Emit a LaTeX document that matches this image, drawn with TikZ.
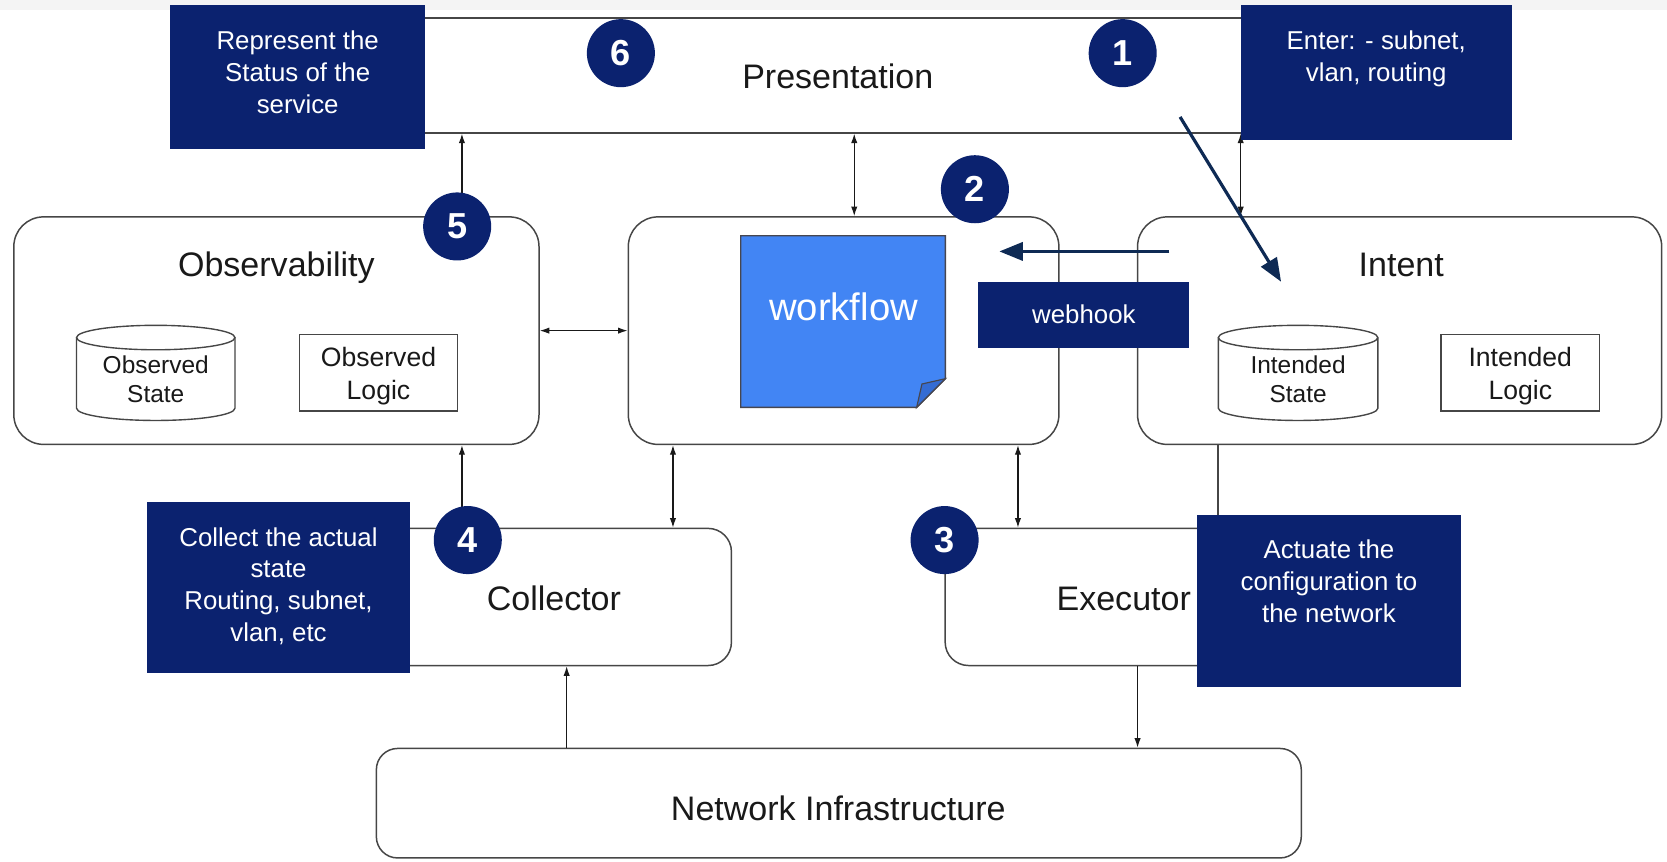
\documentclass[tikz,border=0pt]{standalone}
\usepackage{fontspec}
\setmainfont{Liberation Sans}
\usetikzlibrary{arrows.meta,calc}
\definecolor{navy}{RGB}{11,34,111}
\definecolor{arrownavy}{RGB}{14,42,84}
\definecolor{edge}{RGB}{70,70,70}
\definecolor{ink}{RGB}{25,25,25}
\definecolor{band}{RGB}{244,244,244}
\definecolor{noteblue}{RGB}{66,133,244}
\definecolor{notefold}{RGB}{52,108,212}
\definecolor{noteedge}{RGB}{70,70,80}
\tikzset{
  box/.style={draw=edge, line width=1.4pt, fill=white, inner sep=0pt, rounded corners=#1},
  box/.default=28pt,
  inner/.style={draw=edge, line width=1.3pt, fill=white},
  title/.style={inner sep=0pt, text=ink, anchor=base, font=\fontsize{32}{38}\selectfont},
  small/.style={inner sep=0pt, text=ink, anchor=north, align=center, font=\fontsize{23}{28}\selectfont},
  logic/.style={inner sep=0pt, text=ink, anchor=north, align=center, font=\fontsize{25}{31}\selectfont},
  conn/.style={draw=ink, line width=1.1pt, -{Latex[length=9pt,width=6pt]}},
  conn2/.style={draw=ink, line width=1.1pt, {Latex[length=9pt,width=6pt]}-{Latex[length=9pt,width=6pt]}},
  plain/.style={draw=edge, line width=1.3pt},
  flow/.style={draw=arrownavy, line width=3pt, -{Triangle[length=22pt,width=17pt]}},
  callout/.style={fill=navy, inner sep=0pt},
  calltext/.style={inner sep=0pt, text=white, anchor=north, align=center, font=\fontsize{24.3}{30}\selectfont},
  badge/.style={circle, fill=navy, minimum size=64pt, inner sep=0pt, text=white, font=\fontsize{34}{34}\selectfont\bfseries},
}
\begin{document}
\begin{tikzpicture}[x=1pt,y=-1pt]
\useasboundingbox (0,0) rectangle (1568,810);
\fill[band] (0,0) rectangle (1568,9);

% ---- main blocks ----
\node[box=0pt, minimum width=1100pt, minimum height=108pt] (pres) at (785,71) {};
\node[box, minimum width=494pt, minimum height=214pt] (obs) at (260,311) {};
\node[box, minimum width=405pt, minimum height=214pt] (mid) at (793.5,311) {};
\node[box, minimum width=493pt, minimum height=214pt] (intent) at (1316.5,311) {};
\node[box=22pt, minimum width=358pt, minimum height=129pt] (coll) at (509,561.5) {};
\node[box=22pt, minimum width=321pt, minimum height=129pt] (exec) at (1049.5,561.5) {};
\node[box=20pt, minimum width=870pt, minimum height=103pt] (net) at (789,755.5) {};

\node[title] (presT) at (788,83) {Presentation};
\node[title] (obsT) at (260,260) {Observability};
\node[title] (intentT) at (1318,260) {Intent};
\node[title] (collT) at (521,574) {Collector};
\node[title] (execT) at (1057,574) {Executor};
\node[title] (netT) at (788.5,772) {Network Infrastructure};

% ---- stores and logic blocks ----
\draw[inner] (72,317.5) -- (72,384) arc[start angle=180, end angle=360, x radius=74.5pt, y radius=11.5pt] -- (221,317.5);
\draw[inner] (146.5,317.5) ellipse [x radius=74.5pt, y radius=11.5pt];
\node[small] (obsState) at (146.5,334) {Observed\\State};
\node[inner, minimum width=149pt, minimum height=72pt, inner sep=0pt] (obsLogic) at (356,350.5) {};
\node[logic] (obsLogicT) at (356,326) {Observed\\Logic};

\draw[inner] (1146,317.5) -- (1146,384) arc[start angle=180, end angle=360, x radius=75pt, y radius=11.5pt] -- (1296,317.5);
\draw[inner] (1221,317.5) ellipse [x radius=75pt, y radius=11.5pt];
\node[small] (intState) at (1221,334) {Intended\\State};
\node[inner, minimum width=149pt, minimum height=72pt, inner sep=0pt] (intLogic) at (1430,350.5) {};
\node[logic] (intLogicT) at (1430,326) {Intended\\Logic};

% ---- workflow sticky note ----
\node[inner sep=0pt, minimum width=192pt, minimum height=161pt] (note) at (793,302.5) {};
\filldraw[fill=noteblue, draw=noteedge, line width=1.3pt]
  (note.north west) -- (note.north east) -- ([yshift=27pt]note.south east)
  -- ([xshift=-27pt]note.south east) -- (note.south west) -- cycle;
\filldraw[fill=notefold, draw=noteedge, line width=1.1pt]
  ([xshift=-27pt]note.south east) -- ([xshift=-22pt,yshift=22pt]note.south east)
  -- ([yshift=27pt]note.south east) -- cycle;
\node[inner sep=0pt, anchor=base, text=white, font=\fontsize{36}{40}\selectfont] (noteT) at (793.5,301) {workflow};

% ---- connectors ----
\coordinate (xa) at (434.5,0);
\coordinate (xb) at (803.5,0);
\coordinate (xc) at (1167,0);
\coordinate (xd) at (633,0);
\coordinate (xe) at (957.5,0);
\coordinate (xf) at (1145.6,0);
\coordinate (xg) at (533,0);
\coordinate (xh) at (1070,0);
\draw[conn] (obs.north -| xa) -- (pres.south -| xa);
\draw[conn2] (pres.south -| xb) -- (mid.north -| xb);
\draw[conn2] (pres.south -| xc) -- (intent.north -| xc);
\draw[conn2] (obs.east) -- (mid.west);
\draw[conn] (coll.north -| xa) -- (obs.south -| xa);
\draw[conn2] (mid.south -| xd) -- (coll.north -| xd);
\draw[conn2] (mid.south -| xe) -- (exec.north -| xe);
\draw[plain] (intent.south -| xf) -- (exec.north -| xf);
\draw[conn] (net.north -| xg) -- (coll.south -| xg);
\draw[conn] (exec.south -| xh) -- (net.north -| xh);

% ---- callouts ----
\node[callout, minimum width=240pt, minimum height=135pt] (co6) at (280,72.5) {};
\node[calltext] (co6T) at ([yshift=-24pt]co6.north) {Represent the\\Status of the\\service};
\node[callout, minimum width=255pt, minimum height=127pt] (co1) at (1294.5,68.5) {};
\node[calltext] (co1T) at ([yshift=-24pt]co1.north) {Enter: - subnet,\\vlan, routing};
\node[callout, minimum width=198pt, minimum height=62pt] (cowh) at (1019,296) {};
\node[inner sep=0pt, anchor=base, text=white, font=\fontsize{24.3}{30}\selectfont] (cowhT) at (1019.5,304) {webhook};
\node[callout, minimum width=248pt, minimum height=161pt] (co4) at (262,552.5) {};
\node[calltext] (co4T) at ([yshift=-24pt]co4.north) {Collect the actual\\state\\Routing, subnet,\\vlan, etc};
\node[callout, minimum width=248pt, minimum height=162pt] (co3) at (1250,565) {};
\node[calltext] (co3T) at ([yshift=-24pt]co3.north) {Actuate the\\configuration to\\the network};

% ---- step badges ----
\node[badge] (b6) at (584,50) {6};
\node[badge] (b1) at (1056,50) {1};
\node[badge] (b2) at (917,178) {2};
\node[badge] (b5) at (430,213) {5};
\node[badge] (b4) at (440,508) {4};
\node[badge] (b3) at (888.5,508) {3};

% ---- flow arrows ----
\coordinate (f1s) at (1110,110);
\coordinate (f1e) at (1205,265);
\draw[flow] (f1s) -- (f1e);
\coordinate (f2s) at (1100,236.5);
\coordinate (f2e) at (940,236.5);
\draw[flow] (f2s) -- (f2e);
\end{tikzpicture}
\end{document}
